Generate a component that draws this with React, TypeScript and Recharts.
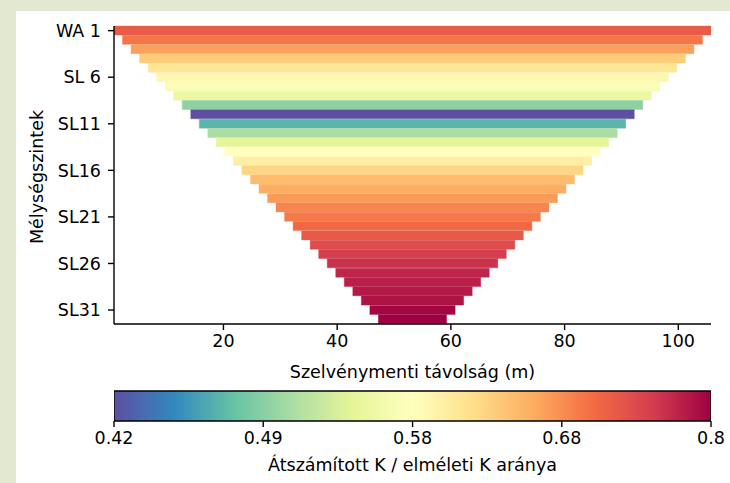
import { BarChart, Bar, XAxis, YAxis, Cell, Label } from 'recharts'

// Depth levels of the section, top to bottom
const LEVELS = [
  'WA 1', 'SL 2', 'SL 3', 'SL 4', 'SL 5', 'SL 6', 'SL 7', 'SL 8', 'SL 9', 'SL10', 'SL11',
  'SL12', 'SL13', 'SL14', 'SL15', 'SL16', 'SL17', 'SL18', 'SL19', 'SL20', 'SL21', 'SL22',
  'SL23', 'SL24', 'SL25', 'SL26', 'SL27', 'SL28', 'SL29', 'SL30', 'SL31', 'SL32',
]

// Left end of each level along the profile (m)
const START_M = [
  0.75, 2.25, 3.75, 5.25, 6.75, 8.25, 9.75, 11.25, 12.75, 14.25, 15.75,
  17.25, 18.75, 20.25, 21.75, 23.25, 24.75, 26.25, 27.75, 29.25, 30.75, 32.25,
  33.75, 35.25, 36.75, 38.25, 39.75, 41.25, 42.75, 44.25, 45.75, 47.25,
]

// Right end of each level along the profile (m)
const END_M = [
  105.75, 104.25, 102.75, 101.25, 99.75, 98.25, 96.75, 95.25, 93.75, 92.25, 90.75,
  89.25, 87.75, 86.25, 84.75, 83.25, 81.75, 80.25, 78.75, 77.25, 75.75, 74.25,
  72.75, 71.25, 69.75, 68.25, 66.75, 65.25, 63.75, 62.25, 60.75, 59.25,
]

// Converted K / theoretical K ratio per level
const RATIO = [
  0.721, 0.698, 0.668, 0.634, 0.61, 0.591, 0.572, 0.554, 0.496, 0.42, 0.471,
  0.51, 0.544, 0.58, 0.599, 0.626, 0.647, 0.659, 0.672, 0.686, 0.694, 0.708,
  0.722, 0.736, 0.75, 0.76, 0.77, 0.775, 0.78, 0.785, 0.795, 0.8,
]

const X_TICKS = [20, 40, 60, 80, 100]
const CB_TICKS = [0.42, 0.4934, 0.5797, 0.681, 0.8]
const V_MIN = 0.42
const V_MAX = 0.8

const SPECTRAL_R = [
  '#5e4fa2', '#3288bd', '#66c2a5', '#abdda4', '#e6f598', '#ffffbf',
  '#fee08b', '#fdae61', '#f46d43', '#d53e4f', '#9e0142',
]

const FONT = '"DejaVu Sans", sans-serif'
const FS = 17.5

const hex = (c: string) => [1, 3, 5].map((i) => parseInt(c.slice(i, i + 2), 16))

// log-normalised lookup into the reversed Spectral map
function colorFor(v: number) {
  const t = (Math.log(v) - Math.log(V_MIN)) / (Math.log(V_MAX) - Math.log(V_MIN))
  const p = Math.min(Math.max(t, 0), 1) * (SPECTRAL_R.length - 1)
  const i = Math.min(Math.floor(p), SPECTRAL_R.length - 2)
  const f = p - i
  const a = hex(SPECTRAL_R[i])
  const b = hex(SPECTRAL_R[i + 1])
  const rgb = a.map((x, k) => Math.round(x + (b[k] - x) * f))
  return `rgb(${rgb.join(',')})`
}

const rows = LEVELS.map((name, i) => ({
  name,
  span: [START_M[i], END_M[i]],
  ratio: RATIO[i],
}))

const cbData = [{ name: 'cb', span: [V_MIN, V_MAX] }]

const tickStyle = { fontSize: FS, fill: '#000', fontFamily: FONT }
const axisLine = { stroke: '#000', strokeWidth: 1.4 }

const fmtCb = (v: number) => String(Number(v.toPrecision(2)))

export default function App() {
  return (
    <div style={{ position: 'absolute', left: 0, top: 0, width: 730, height: 483, background: '#e3e9d0', fontFamily: FONT }}>
      <div style={{ position: 'absolute', left: 16, top: 11, width: 714, height: 472, background: '#fff' }} />

      {/* main section: one horizontal range bar per depth level */}
      <div style={{ position: 'absolute', left: 0, top: 0 }}>
        <BarChart
          width={730}
          height={390}
          data={rows}
          layout="vertical"
          barCategoryGap={0}
          margin={{ top: 26, right: 19, bottom: 0, left: 0 }}
        >
          <XAxis
            xAxisId="b"
            type="number"
            domain={[0.75, 105.75]}
            ticks={X_TICKS}
            allowDataOverflow
            height={66}
            tick={tickStyle}
            tickSize={6}
            tickMargin={5}
            axisLine={axisLine}
            tickLine={axisLine}
          >
            <Label
              content={(p: any) => (
                <text
                  x={p.viewBox.x + p.viewBox.width / 2}
                  y={p.viewBox.y + 54}
                  textAnchor="middle"
                  fontSize={FS}
                  fontFamily={FONT}
                  fill="#000"
                >
                  Szelvénymenti távolság (m)
                </text>
              )}
            />
          </XAxis>
          <XAxis
            xAxisId="t"
            orientation="top"
            type="number"
            domain={[0.75, 105.75]}
            allowDataOverflow
            height={0}
            tick={false}
            tickLine={false}
            axisLine={axisLine}
          />
          <YAxis
            yAxisId="l"
            type="category"
            dataKey="name"
            width={114}
            interval={4}
            tick={tickStyle}
            tickSize={6}
            tickMargin={7}
            axisLine={axisLine}
            tickLine={axisLine}
          >
            <Label
              content={(p: any) => {
                const cx = 37
                const cy = p.viewBox.y + p.viewBox.height / 2 + 2
                return (
                  <text
                    x={cx}
                    y={cy}
                    transform={`rotate(-90, ${cx}, ${cy})`}
                    textAnchor="middle"
                    dominantBaseline="central"
                    fontSize={FS}
                    fontFamily={FONT}
                    fill="#000"
                  >
                    Mélységszintek
                  </text>
                )
              }}
            />
          </YAxis>
          <YAxis
            yAxisId="r"
            orientation="right"
            type="category"
            dataKey="name"
            width={0}
            tick={false}
            tickLine={false}
            axisLine={axisLine}
          />
          <Bar dataKey="span" xAxisId="b" yAxisId="l" isAnimationActive={false}>
            {rows.map((r) => (
              <Cell key={r.name} fill={colorFor(r.ratio)} stroke={colorFor(r.ratio)} strokeWidth={0.4} />
            ))}
          </Bar>
        </BarChart>
      </div>

      {/* colour bar, log-scaled */}
      <div style={{ position: 'absolute', left: 0, top: 0 }}>
        <BarChart
          width={730}
          height={483}
          data={cbData}
          layout="vertical"
          barCategoryGap={0}
          margin={{ top: 391, right: 19, bottom: 0, left: 114 }}
        >
          <defs>
            <linearGradient id="cbGrad" x1="0" y1="0" x2="1" y2="0">
              {SPECTRAL_R.map((c, i) => (
                <stop key={i} offset={i / (SPECTRAL_R.length - 1)} stopColor={c} />
              ))}
            </linearGradient>
          </defs>
          <XAxis
            type="number"
            scale="log"
            domain={[V_MIN, V_MAX]}
            ticks={CB_TICKS}
            tickFormatter={fmtCb}
            allowDataOverflow
            height={62}
            tick={tickStyle}
            tickSize={6}
            tickMargin={5}
            axisLine={false}
            tickLine={axisLine}
          >
            <Label
              content={(p: any) => (
                <text
                  x={p.viewBox.x + p.viewBox.width / 2}
                  y={p.viewBox.y + 50}
                  textAnchor="middle"
                  fontSize={FS}
                  fontFamily={FONT}
                  fill="#000"
                >
                  Átszámított K / elméleti K aránya
                </text>
              )}
            />
          </XAxis>
          <YAxis type="category" dataKey="name" hide />
          <Bar dataKey="span" fill="url(#cbGrad)" stroke="#000" strokeWidth={1.4} isAnimationActive={false} />
        </BarChart>
      </div>
    </div>
  )
}
